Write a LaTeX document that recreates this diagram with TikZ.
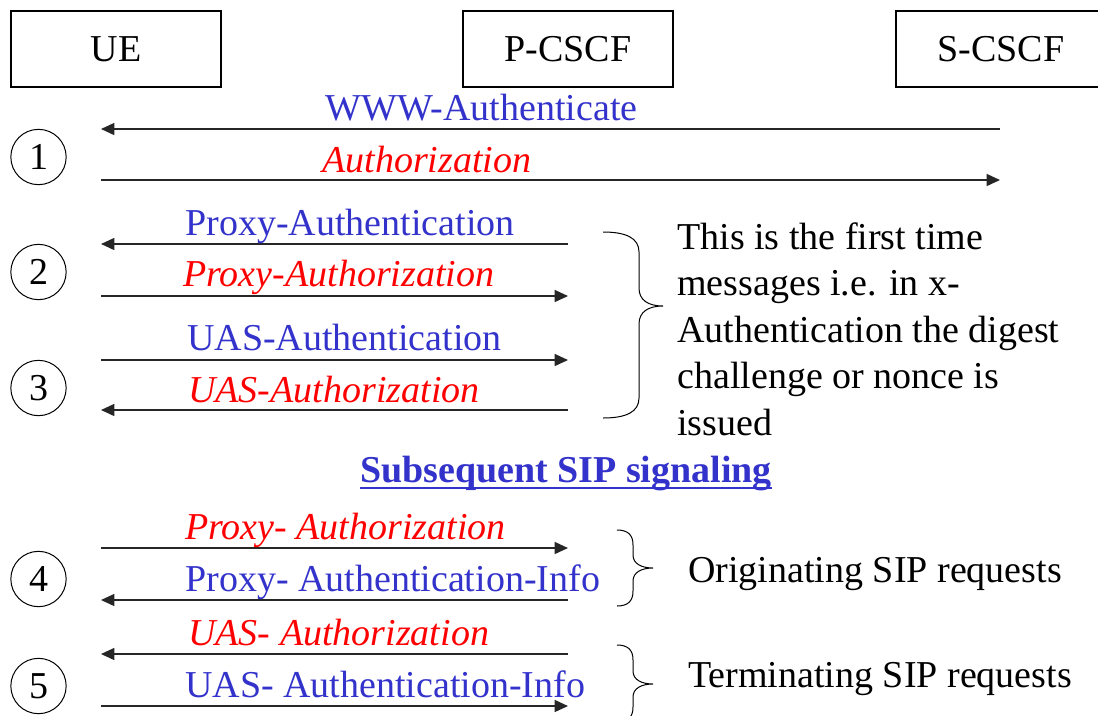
\documentclass[tikz,border=0pt]{standalone}
\usepackage{fontspec}
\setmainfont{Liberation Serif}
\usetikzlibrary{arrows.meta}
\definecolor{msgblue}{RGB}{51,51,204}
\definecolor{msgred}{RGB}{255,0,0}
\newcommand\diagfont{\fontsize{28.5}{34.9}\selectfont}
\tikzset{
  entity/.style={draw, line width=1pt, minimum width=157.5pt, minimum height=57pt, inner sep=0pt, font=\diagfont},
  stepno/.style={draw, circle, line width=0.75pt, minimum size=41.5pt, inner sep=0pt, font=\diagfont},
  msg/.style={line width=1pt, draw=black!85, -{Triangle[length=10pt,width=9pt]}},
  bluelbl/.style={text=msgblue, anchor=base west, inner sep=0pt, font=\diagfont},
  redlbl/.style={text=msgred, anchor=base west, inner sep=0pt, font=\diagfont\itshape},
  note/.style={anchor=base west, inner sep=0pt, font=\diagfont},
  bracket/.style={line width=0.75pt}
}
\begin{document}
\begin{tikzpicture}[x=0.75pt,y=0.75pt,yscale=-1,xscale=1]
\useasboundingbox (0,0) rectangle (1098,715);
\clip (0,0) rectangle (1098,715);

% Entities
\node [entity] (ue) at (116,49) {UE};
\node [entity] (pcscf) at (568,49) {P-CSCF};
\node [entity] (scscf) at (1001,49) {S-CSCF};

% Step numbers
\node [stepno] (n1) at (38.5,157) {1};
\node [stepno] (n2) at (38.5,272) {2};
\node [stepno] (n3) at (38.5,388) {3};
\node [stepno] (n4) at (38.5,579) {4};
\node [stepno] (n5) at (38.5,686) {5};

% Message end points
\coordinate (ua) at (101,129);  \coordinate (sa) at (1000,129);
\coordinate (ub) at (101,180);  \coordinate (sb) at (1000,180);
\coordinate (uc) at (101,244);  \coordinate (pc) at (568,244);
\coordinate (ud) at (101,296);  \coordinate (pd) at (568,296);
\coordinate (ue3) at (101,360); \coordinate (pe) at (568,360);
\coordinate (uf) at (101,410);  \coordinate (pf) at (568,410);
\coordinate (ug) at (101,548);  \coordinate (pg) at (568,548);
\coordinate (uh) at (101,600);  \coordinate (ph) at (568,600);
\coordinate (ui) at (101,654);  \coordinate (pi) at (568,654);
\coordinate (uj) at (101,706);  \coordinate (pj) at (568,706);

%Straight Lines
\draw [msg] (sa) -- (ua);
\draw [msg] (ub) -- (sb);
\draw [msg] (pc) -- (uc);
\draw [msg] (ud) -- (pd);
\draw [msg] (ue3) -- (pe);
\draw [msg] (pf) -- (uf);
\draw [msg] (ug) -- (pg);
\draw [msg] (ph) -- (uh);
\draw [msg] (pi) -- (ui);
\draw [msg] (uj) -- (pj);

% Text Node
\node [bluelbl] (www) at (325,120) {WWW-Authenticate};
\node [redlbl] (auth) at (322,172) {Authorization};
\node [bluelbl] (pxauth) at (185,235) {Proxy-Authentication};
\node [redlbl] (pxautz) at (183,286) {Proxy-Authorization};
\node [bluelbl] (uasauth) at (187,350) {UAS-Authentication};
\node [redlbl] (uasautz) at (188,402) {UAS-Authorization};
\node [redlbl] (pxautz2) at (185,539) {Proxy- Authorization};
\node [bluelbl] (pxinfo) at (185,591) {Proxy- Authentication-Info};
\node [redlbl] (uasautz2) at (188,645) {UAS- Authorization};
\node [bluelbl] (uasinfo) at (185,697) {UAS- Authentication-Info};

% Subsequent heading
\node [anchor=base, inner sep=0pt, text=msgblue, font=\diagfont\bfseries] (subseq) at (566,482) {Subsequent SIP signaling};
\draw [msgblue, line width=1.8pt] ([yshift=4.5pt]subseq.base west) -- ([yshift=4.5pt]subseq.base east);

%Curve Lines (braces)
\draw [bracket] (603,232) .. controls (626,232) and (639,238) .. (639,252) -- (639,288) .. controls (639,300) and (648,306) .. (663,306) .. controls (648,306) and (639,312) .. (639,324) -- (639,398) .. controls (639,412) and (626,418) .. (603,418);
\draw [bracket] (617,530) .. controls (628,530) and (633,535) .. (633,545) -- (633,555) .. controls (633,564) and (642,568) .. (653,568) .. controls (642,568) and (633,572) .. (633,581) -- (633,591) .. controls (633,601) and (628,606) .. (617,606);
\draw [bracket] (617,645) .. controls (628,645) and (633,650) .. (633,660) -- (633,671) .. controls (633,680) and (642,684) .. (653,684) .. controls (642,684) and (633,688) .. (633,697) -- (633,707) .. controls (633,717) and (628,722) .. (617,722);

% Notes
\node [anchor=north west, inner sep=0pt, font=\diagfont, align=left] (first) at (677,222) {This is the first time\\messages i.e. in x-\\Authentication the digest\\challenge or nonce is\\issued};
\node [note] (orig) at (688,582) {Originating SIP requests};
\node [note] (term) at (688,687) {Terminating SIP requests};

\end{tikzpicture}
\end{document}
